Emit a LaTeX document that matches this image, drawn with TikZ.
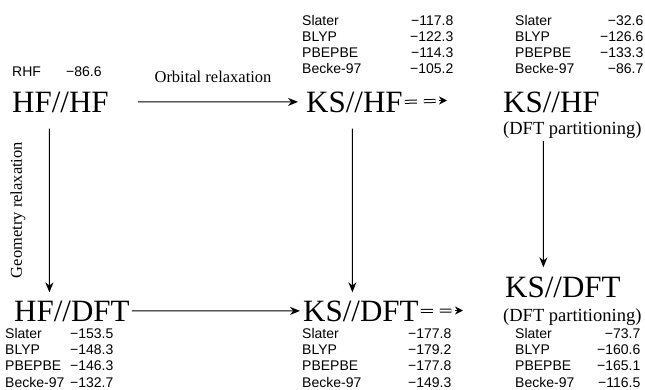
\documentclass[tikz,border=0pt]{standalone}
\usepackage{fontspec}
\setmainfont{Liberation Serif}
\newfontfamily\arialf{Liberation Sans}
\usetikzlibrary{arrows.meta}
\begin{document}
\begin{tikzpicture}[x=1pt,y=-1pt,
  big/.style={font=\fontsize{31}{31}\selectfont, inner sep=0pt, anchor=base west},
  sub/.style={font=\fontsize{18.5}{18.5}\selectfont, inner sep=0pt, anchor=base west},
  lbl/.style={font=\fontsize{16.5}{16.5}\selectfont, inner sep=0pt},
  lst/.style={font=\arialf\fontsize{14}{16.2}\selectfont, inner sep=0pt, anchor=north west},
  arr/.style={line width=1.1pt, -{Stealth[length=10pt,width=8pt]}},
  eqd/.style={double, double distance=2pt, line width=1pt, dash pattern=on 12pt off 7pt},
  tipa/.style={line width=1pt, -{Stealth[length=8pt,width=8pt]}},
]
\useasboundingbox (0,0) rectangle (645,389);

% top row
\node[lst, anchor=west] (rhf) at (12,72) {\makebox[54pt][l]{RHF}−86.6};
\node[big] (hfhf) at (12,112) {HF//HF};
\node[lbl] (orb) at (213,77) {Orbital relaxation};
\node[lst] (l1) at (302,13.8) {\begin{tabular}{@{}p{108pt}@{}r@{}}
Slater & −117.8\\ BLYP & −122.3\\ PBEPBE & −114.3\\ Becke-97 & −105.2\end{tabular}};
\node[big] (kshf) at (306,112) {KS//HF};
\node[lst] (l2) at (515,13.8) {\begin{tabular}{@{}p{85pt}@{}r@{}}
Slater & −32.6\\ BLYP & −126.6\\ PBEPBE & −133.3\\ Becke-97 & −86.7\end{tabular}};
\node[big] (kshfr) at (503,112) {KS//HF};
\node[sub] (dpt1) at (503,134) {(DFT partitioning)};

% bottom row
\node[big] (hfdft) at (14,321) {HF//DFT};
\node[lst] (l3) at (5,327) {\begin{tabular}{@{}p{65pt}@{}r@{}}
Slater & −153.5\\ BLYP & −148.3\\ PBEPBE & −146.3\\ Becke-97 & −132.7\end{tabular}};
\node[big] (ksdft) at (303,321) {KS//DFT};
\node[lst] (l4) at (302,327) {\begin{tabular}{@{}p{106pt}@{}r@{}}
Slater & −177.8\\ BLYP & −179.2\\ PBEPBE & −177.8\\ Becke-97 & −149.3\end{tabular}};
\node[big] (ksdftr) at (505,297) {KS//DFT};
\node[sub] (dpt2) at (503,321) {(DFT partitioning)};
\node[lst] (l5) at (515,327) {\begin{tabular}{@{}p{82pt}@{}r@{}}
Slater & −73.7\\ BLYP & −160.6\\ PBEPBE & −165.1\\ Becke-97 & −116.5\end{tabular}};

\node[lbl, rotate=90] (geo) at (18,210) {Geometry relaxation};

% connectors
\draw[arr, shorten <=29pt, shorten >=8pt] (hfhf.east) -- (kshf.west);
\draw[arr, shorten <=2pt, shorten >=3pt] (hfdft.east) -- (ksdft.west);

\draw[arr, shorten <=16pt, shorten >=8pt] ([xshift=-11pt]hfhf.south) -- ([xshift=-22.5pt]hfdft.north);
\draw[arr, shorten <=16pt, shorten >=8pt] ([xshift=-2pt]kshf.south) -- ([xshift=-8.5pt]ksdft.north);
\draw[arr, shorten <=3pt, shorten >=9pt] ([xshift=-29pt]dpt1.south) -- ([xshift=-19.5pt]ksdftr.north);

\coordinate (h1) at (447,100.5);
\draw[eqd, shorten >=11.5pt] ([xshift=2pt]kshf.east) -- (h1);
\draw[tipa] ([xshift=-8pt]h1) -- (h1);

\coordinate (h2) at (463,310.5);
\draw[eqd, shorten >=11.6pt] ([xshift=2pt]ksdft.east) -- (h2);
\draw[tipa] ([xshift=-8pt]h2) -- (h2);
\end{tikzpicture}
\end{document}
